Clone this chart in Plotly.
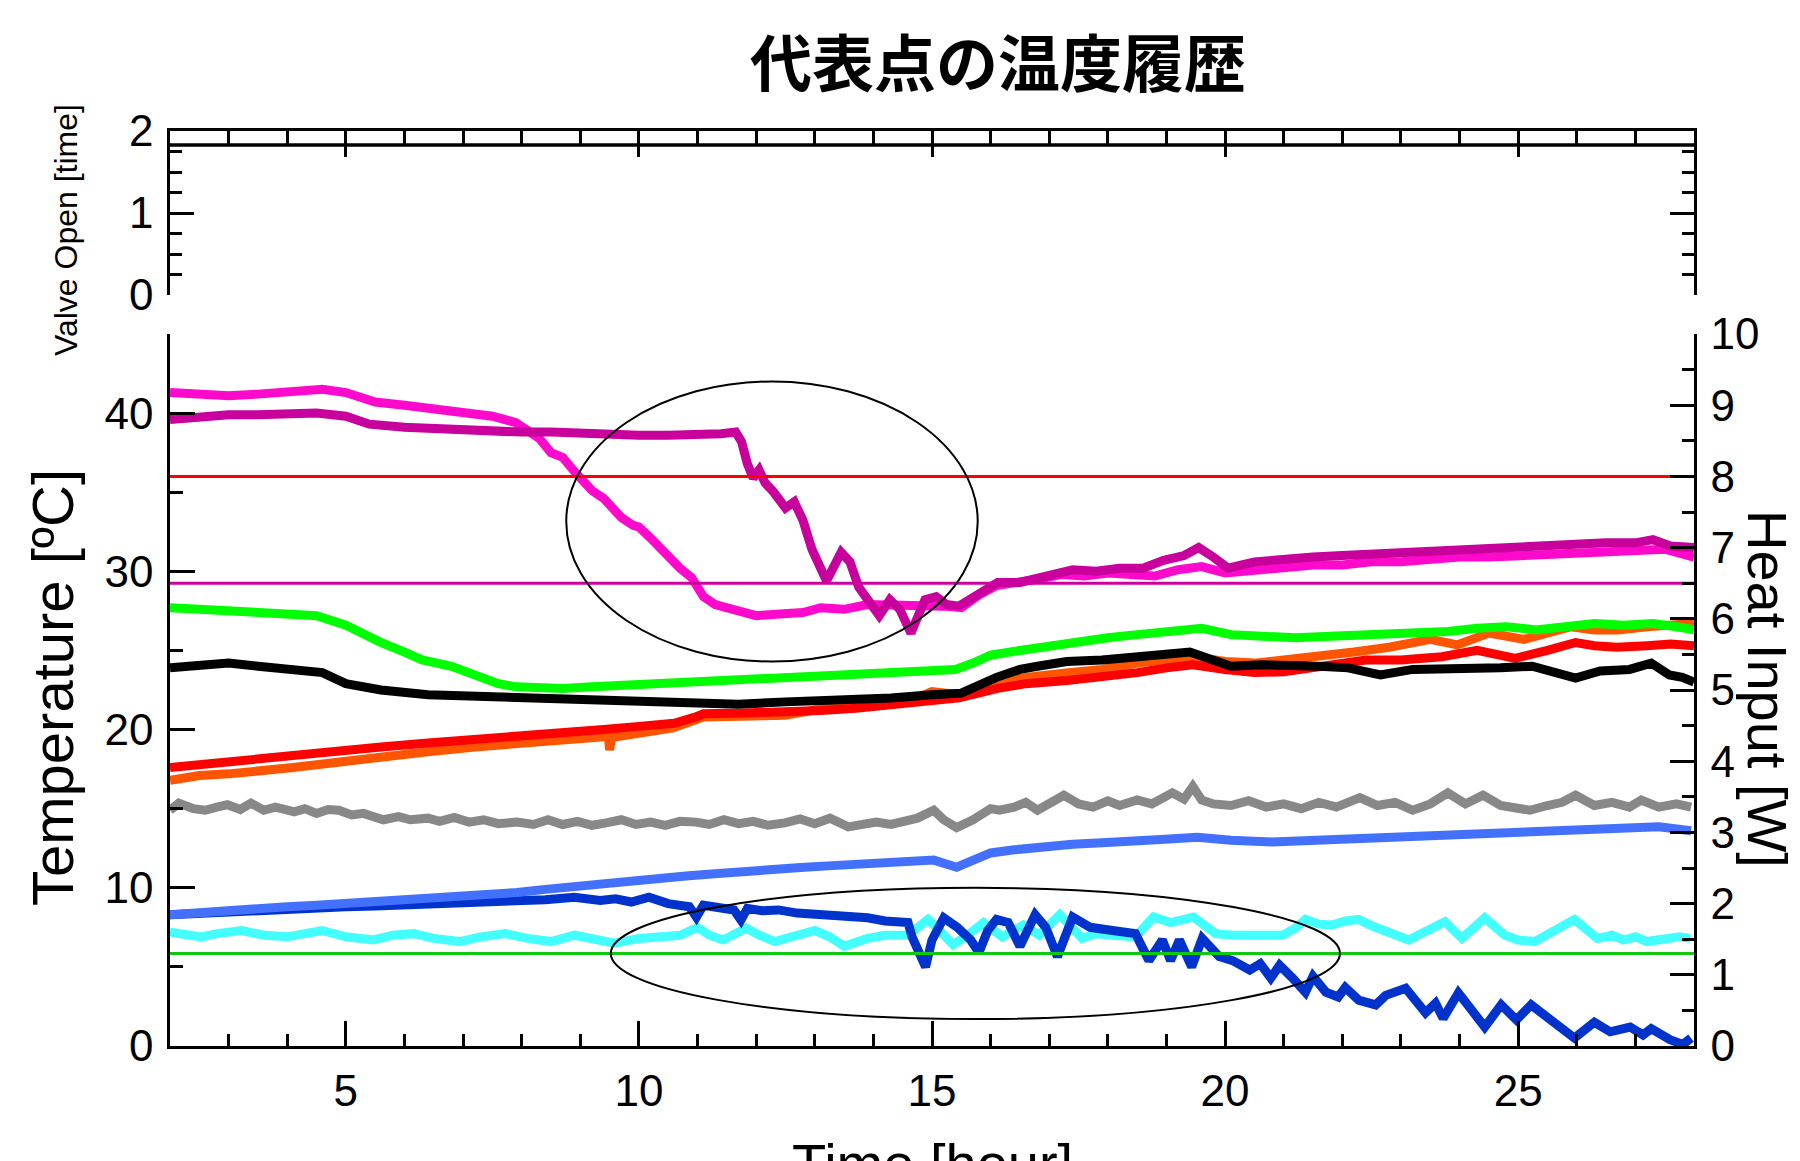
import plotly.graph_objects as go

# ---------------- data ----------------
title_text = "代表点の温度履歴"
x_title = "Time [hour]"
y_left_title = "Temperature [ºC]"
y_right_title = "Heat Input [W]"
y_valve_title = "Valve Open [time]"

x_range = [2, 28]
temp_range = [0, 45]
heat_range = [0, 10]
valve_range = [0, 2]

t_pink = [2.0, 2.5, 3.0, 3.5, 4.0, 4.6, 5.0, 5.5, 6.0, 6.5, 7.0, 7.5, 7.9, 8.3, 8.5, 8.7, 8.9, 9.1, 9.2, 9.4,
          9.6, 9.7, 9.9, 10.0, 10.2, 10.4, 10.5, 10.7, 10.9, 11.1, 11.3, 11.5, 11.7, 12.0, 12.4, 12.8, 13.1,
          13.5, 13.9, 14.4, 14.8, 15.2, 15.5, 15.8, 16.1, 16.5, 16.8, 17.2, 17.6, 18.0, 18.5, 18.8, 19.2,
          19.6, 20.0, 20.5, 21.0, 21.5, 22.0, 22.5, 23.0, 23.5, 24.0, 24.5, 25.0, 25.5, 26.0, 26.5, 27.0,
          27.5, 28.0]
v_pink = [41.3, 41.2, 41.1, 41.2, 41.3, 41.5, 41.3, 40.7, 40.5, 40.3, 40.1, 39.8, 39.4, 38.4, 37.5, 37.2,
          36.3, 35.6, 35.1, 34.6, 33.9, 33.4, 32.9, 32.8, 32.1, 31.3, 30.9, 30.2, 29.6, 28.4, 27.9, 27.7,
          27.5, 27.2, 27.3, 27.4, 27.7, 27.6, 27.9, 27.9, 27.9, 27.8, 27.7, 28.5, 29.1, 29.3, 29.5, 29.8,
          29.7, 29.9, 29.8, 29.7, 30.1, 30.3, 29.9, 30.1, 30.3, 30.4, 30.4, 30.6, 30.6, 30.8, 30.9, 30.9,
          31.0, 31.1, 31.2, 31.2, 31.3, 31.4, 30.9]

t_purple = [2.0, 2.5, 3.0, 3.5, 4.0, 4.5, 5.0, 5.4, 6.0, 6.5, 7.0, 7.5, 8.0, 8.5, 9.0, 9.5, 10.0, 10.5, 11.0,
            11.4, 11.65, 11.75, 11.85, 11.95, 12.05, 12.15, 12.3, 12.5, 12.65, 12.8, 12.95, 13.05, 13.2,
            13.45, 13.6, 13.75, 13.85, 14.0, 14.1, 14.28, 14.45, 14.64, 14.88, 15.07, 15.25, 15.46, 15.78,
            16.12, 16.5, 16.8, 17.1, 17.4, 17.8, 18.2, 18.6, 18.95, 19.3, 19.55, 19.8, 20.05, 20.5, 21.0,
            21.5, 22.0, 22.5, 23.0, 23.5, 24.0, 24.5, 25.0, 25.5, 26.0, 26.5, 27.0, 27.3, 27.6, 28.0]
v_purple = [39.6, 39.8, 39.9, 39.9, 40.0, 40.0, 39.8, 39.3, 39.1, 39.0, 38.9, 38.9, 38.8, 38.8, 38.7, 38.6,
            38.6, 38.6, 38.6, 38.7, 38.8, 38.2, 36.8, 35.9, 36.4, 35.6, 35.0, 34.0, 34.4, 33.2, 31.4, 30.5,
            29.4, 31.2, 30.6, 29.0, 28.5, 27.6, 27.2, 28.2, 27.6, 26.1, 28.2, 28.4, 27.9, 27.8, 28.6, 29.3,
            29.3, 29.6, 29.9, 30.1, 30.0, 30.2, 30.2, 30.7, 31.0, 31.5, 30.9, 30.2, 30.6, 30.8, 30.9, 31.0,
            31.1, 31.1, 31.3, 31.4, 31.4, 31.5, 31.6, 31.7, 31.8, 31.8, 32.0, 31.6, 31.5]

t_green = [2.0, 2.5, 3.0, 3.5, 4.0, 4.5, 5.0, 5.3, 5.6, 6.0, 6.3, 6.8, 7.3, 7.6, 7.9, 8.3, 8.7, 9.2, 9.8, 10.4,
           11.0, 11.5, 12.0, 12.5, 13.0, 13.5, 14.0, 14.5, 15.0, 15.4, 15.7, 16.0, 16.5, 17.0, 17.5, 18.0,
           18.5, 19.0, 19.6, 20.1, 20.6, 21.2, 21.8, 22.5, 23.2, 23.8, 24.3, 24.8, 25.3, 25.8, 26.3, 26.8,
           27.3, 27.7, 28.0]
v_green = [27.7, 27.6, 27.5, 27.4, 27.3, 27.2, 26.6, 26.0, 25.5, 24.9, 24.4, 24.0, 23.3, 22.9, 22.7, 22.6,
           22.6, 22.7, 22.8, 22.9, 23.1, 23.1, 23.2, 23.3, 23.4, 23.5, 23.6, 23.7, 23.8, 23.8, 24.2, 24.7,
           25.0, 25.3, 25.5, 25.8, 26.0, 26.2, 26.4, 26.0, 25.9, 25.8, 25.9, 26.0, 26.1, 26.2, 26.4, 26.5,
           26.3, 26.5, 26.7, 26.6, 26.7, 26.5, 26.3]

t_black = [2.0, 2.5, 3.0, 3.5, 4.1, 4.6, 5.0, 5.6, 6.4, 7.2, 7.9, 8.6, 9.4, 10.2, 11.0, 11.7, 12.5, 13.2, 13.7,
           14.3, 15.0, 15.5, 16.1, 16.5, 16.8, 17.3, 17.9, 18.4, 18.8, 19.4, 19.7, 20.1, 20.6, 21.0, 21.6,
           22.1, 22.65, 23.2, 23.7, 24.2, 24.7, 25.24, 25.6, 25.98, 26.4, 26.9, 27.27, 27.58, 27.8, 28.0]
v_black = [23.9, 24.0, 24.2, 24.0, 23.8, 23.6, 22.9, 22.5, 22.2, 22.1, 22.0, 21.9, 21.75, 21.7, 21.55, 21.6,
           21.75, 21.8, 21.9, 22.0, 22.2, 22.3, 23.3, 23.8, 24.0, 24.3, 24.4, 24.5, 24.7, 24.9, 24.5, 24.0,
           24.1, 24.1, 24.0, 23.9, 23.45, 23.8, 23.8, 23.9, 23.9, 24.0, 23.7, 23.25, 23.7, 23.8, 24.2, 23.45,
           23.3, 23.0]

t_red = [2.0, 2.5, 3.0, 3.4, 4.0, 4.9, 5.6, 6.4, 7.2, 7.9, 8.7, 9.4, 10.0, 10.6, 10.97, 11.1, 11.8, 12.5,
         13.1, 13.7, 14.3, 14.9, 15.46, 16.12, 16.6, 17.3, 17.9, 18.5, 19.0, 19.45, 20.0, 20.5, 21.0, 21.6,
         22.0, 22.4, 23.0, 23.7, 24.3, 24.95, 25.5, 25.98, 26.3, 26.68, 27.2, 27.6, 28.0]
v_red = [17.6, 17.8, 17.9, 18.1, 18.3, 18.7, 18.9, 19.15, 19.35, 19.55, 19.8, 20.0, 20.2, 20.4, 20.8, 21.0,
         21.05, 21.1, 21.2, 21.35, 21.6, 21.8, 22.0, 22.6, 22.9, 23.1, 23.3, 23.6, 23.9, 24.1, 23.8, 23.6,
         23.65, 24.0, 24.1, 24.4, 24.4, 24.6, 25.0, 24.5, 25.0, 25.5, 25.3, 25.2, 25.3, 25.4, 25.3]

t_orange = [2.0, 2.5, 3.0, 3.4, 4.1, 4.9, 5.6, 6.4, 7.2, 7.9, 8.7, 9.4, 9.48, 9.5, 9.53, 10.0, 10.58, 11.1,
            11.8, 12.49, 13.1, 13.7, 14.3, 14.8, 15.0, 15.46, 16.12, 16.6, 17.33, 17.9, 18.5, 19.0, 19.45,
            20.0, 20.5, 21.0, 21.6, 22.2, 22.8, 23.5, 23.96, 24.5, 25.1, 25.5, 25.9, 26.3, 26.7, 27.2, 27.6,
            28.0]
v_orange = [16.8, 17.1, 17.2, 17.3, 17.6, 17.95, 18.3, 18.6, 18.9, 19.15, 19.35, 19.55, 19.5, 18.7, 19.5,
            19.8, 20.1, 20.8, 20.85, 20.9, 21.3, 21.75, 21.9, 22.1, 22.4, 22.2, 23.0, 23.3, 23.6, 23.8, 24.2,
            24.4, 24.6, 24.3, 24.2, 24.4, 24.6, 24.9, 25.2, 25.7, 25.35, 26.1, 25.7, 26.1, 26.5, 26.3, 26.3,
            26.5, 26.6, 26.7]

t_gray = [2.0, 2.15, 2.4, 2.6, 2.8, 2.98, 3.2, 3.38, 3.6, 3.8, 4.12, 4.3, 4.5, 4.7, 4.88, 5.1, 5.3, 5.64, 5.9,
          6.1, 6.4, 6.6, 6.85, 7.1, 7.35, 7.6, 7.92, 8.2, 8.45, 8.7, 8.95, 9.2, 9.44, 9.7, 9.95, 10.2, 10.45,
          10.7, 10.97, 11.2, 11.45, 11.7, 11.95, 12.2, 12.49, 12.75, 13.0, 13.26, 13.57, 13.8, 14.05, 14.3,
          14.45, 14.75, 15.03, 15.2, 15.42, 15.7, 16.0, 16.15, 16.4, 16.6, 16.8, 17.0, 17.25, 17.5, 17.75,
          18.0, 18.2, 18.5, 18.75, 19.1, 19.3, 19.45, 19.6, 19.8, 20.1, 20.4, 20.7, 21.0, 21.3, 21.6, 21.9,
          22.3, 22.6, 22.9, 23.2, 23.5, 23.8, 24.1, 24.4, 24.7, 25.0, 25.2, 25.5, 25.75, 25.98, 26.3, 26.6,
          26.9, 27.1, 27.4, 27.7, 27.95]
v_gray = [14.9, 15.35, 15.0, 14.9, 15.1, 15.25, 14.95, 15.35, 14.9, 15.1, 14.8, 15.0, 14.7, 14.95, 14.9, 14.6,
          14.7, 14.3, 14.5, 14.3, 14.4, 14.2, 14.45, 14.15, 14.3, 14.05, 14.15, 14.0, 14.3, 14.0, 14.2, 13.95,
          14.1, 14.3, 14.0, 14.15, 13.95, 14.2, 14.15, 14.0, 14.3, 14.05, 14.2, 13.95, 14.1, 14.35, 14.05,
          14.4, 13.85, 14.0, 14.15, 14.0, 14.1, 14.4, 14.9, 14.3, 13.8, 14.3, 15.0, 14.9, 15.1, 15.4, 14.9,
          15.3, 15.85, 15.3, 15.1, 15.5, 15.2, 15.55, 15.3, 16.0, 15.6, 16.4, 15.55, 15.3, 15.2, 15.5, 15.1,
          15.3, 15.0, 15.4, 15.1, 15.7, 15.2, 15.4, 14.9, 15.3, 16.0, 15.3, 15.85, 15.2, 15.1, 14.9, 15.2,
          15.4, 15.85, 15.2, 15.4, 15.1, 15.55, 15.1, 15.3, 15.1]

t_lblue = [2.0, 2.5, 3.0, 3.5, 4.0, 4.5, 5.0, 5.5, 5.96, 6.5, 7.0, 7.5, 7.92, 8.4, 8.9, 9.4, 9.87, 10.3, 10.8,
           11.35, 11.8, 12.3, 12.82, 13.3, 13.8, 14.38, 14.7, 15.03, 15.42, 15.7, 16.0, 16.4, 16.9, 17.4,
           17.9, 18.37, 18.9, 19.53, 20.1, 20.8, 21.5, 22.28, 23.0, 23.75, 24.5, 25.2, 25.7, 26.2, 26.8,
           27.4, 27.95]
v_lblue = [8.3, 8.45, 8.55, 8.65, 8.8, 8.9, 9.0, 9.1, 9.2, 9.35, 9.45, 9.55, 9.7, 9.9, 10.1, 10.3, 10.5,
           10.65, 10.75, 10.9, 11.05, 11.2, 11.3, 11.4, 11.5, 11.55, 11.6, 11.75, 11.3, 11.7, 12.2, 12.4,
           12.6, 12.75, 12.85, 12.9, 13.05, 13.2, 13.0, 12.9, 13.0, 13.15, 13.25, 13.45, 13.5, 13.55, 13.7,
           13.8, 13.75, 13.85, 13.6]

t_dblue = [2.0, 2.5, 3.0, 3.5, 4.0, 4.5, 5.0, 5.5, 5.96, 6.5, 7.0, 7.5, 7.92, 8.4, 8.9, 9.34, 9.6, 9.87,
           10.17, 10.5, 10.86, 10.98, 11.1, 11.35, 11.62, 11.74, 11.85, 12.1, 12.38, 12.7, 13.14, 13.5, 13.9,
           14.2, 14.45, 14.59, 14.66, 14.89, 15.0, 15.2, 15.43, 15.66, 15.8, 15.95, 16.1, 16.3, 16.5, 16.76,
           16.94, 17.14, 17.4, 17.7, 18.08, 18.47, 18.7, 18.93, 19.07, 19.22, 19.43, 19.61, 19.9, 20.13,
           20.42, 20.6, 20.78, 20.93, 21.15, 21.37, 21.5, 21.72, 21.93, 22.05, 22.28, 22.57, 22.74, 23.08,
           23.42, 23.59, 23.72, 23.98, 24.2, 24.43, 24.71, 24.97, 25.22, 25.61, 25.96, 26.3, 26.57, 26.91,
           27.13, 27.27, 27.59, 27.81, 27.95]
v_dblue = [8.3, 8.4, 8.5, 8.55, 8.6, 8.75, 8.8, 8.85, 8.9, 9.0, 9.05, 9.1, 9.1, 9.25, 9.4, 9.2, 9.3, 9.1, 9.4,
           9.0, 8.8, 8.15, 8.9, 8.7, 8.6, 7.96, 8.7, 8.55, 8.6, 8.4, 8.3, 8.2, 8.1, 7.9, 7.8, 7.8, 6.9, 5.0,
           6.7, 8.1, 7.5, 6.7, 5.9, 7.3, 8.0, 7.8, 6.3, 8.3, 7.5, 5.65, 8.15, 7.5, 7.3, 7.1, 5.4, 6.7, 5.4,
           6.7, 5.0, 6.8, 5.65, 5.4, 4.8, 5.2, 4.3, 5.1, 4.3, 3.4, 4.4, 3.4, 3.1, 3.7, 2.9, 2.6, 3.2, 3.65,
           2.1, 2.7, 1.75, 3.35, 2.3, 1.2, 2.6, 1.65, 2.6, 1.45, 0.5, 1.5, 0.9, 1.2, 0.7, 1.1, 0.4, 0.1, 0.5]

t_cyan = [2.0, 2.25, 2.53, 2.8, 3.22, 3.6, 4.0, 4.3, 4.59, 5.0, 5.47, 5.8, 6.15, 6.5, 6.94, 7.3, 7.72, 8.1,
          8.5, 8.9, 9.2, 9.58, 10.0, 10.36, 10.7, 11.0, 11.2, 11.44, 11.83, 12.05, 12.32, 12.7, 13.0, 13.25,
          13.5, 13.9, 14.2, 14.59, 14.93, 15.1, 15.36, 15.6, 15.88, 16.2, 16.56, 16.83, 17.18, 17.56, 17.8,
          18.08, 18.47, 18.78, 19.07, 19.46, 19.84, 20.13, 20.37, 20.7, 20.98, 21.2, 21.37, 21.6, 21.82,
          22.05, 22.28, 22.5, 22.78, 23.13, 23.4, 23.75, 24.04, 24.43, 24.77, 25.0, 25.28, 25.56, 25.96,
          26.35, 26.6, 26.8, 27.0, 27.2, 27.53, 27.75, 27.93]
v_cyan = [7.2, 7.0, 6.9, 7.1, 7.3, 7.0, 6.9, 7.1, 7.3, 6.9, 6.7, 7.0, 7.1, 6.8, 6.6, 6.9, 7.1, 6.8, 6.6, 7.0,
          6.8, 6.5, 6.8, 6.9, 7.0, 7.5, 7.0, 6.7, 7.45, 7.0, 6.6, 7.0, 7.3, 6.9, 6.3, 6.8, 7.0, 7.0, 8.0, 7.4,
          6.4, 7.0, 7.8, 6.9, 7.65, 7.0, 8.3, 6.8, 7.1, 7.0, 6.9, 8.15, 7.8, 8.15, 7.1, 7.0, 7.0, 7.1, 7.0,
          7.45, 8.0, 7.7, 7.65, 7.9, 8.0, 7.6, 7.2, 6.7, 7.2, 7.85, 6.8, 8.1, 7.0, 6.7, 6.6, 7.2, 8.0, 6.8,
          7.0, 6.7, 6.9, 6.6, 6.7, 6.9, 6.8]

# heat input levels [W] (right axis)
heat_levels = [8.0, 6.5, 1.3]
heat_colors = ["#FF0000", "#CC00A0", "#10C810"]

# highlighted regions (hour, degC)
ellipse_x = [[8.76, 15.78], [9.52, 21.96]]
ellipse_y = [[24.3, 42.0], [1.7, 10.0]]
valve_band_level = 1.83

series = [
    ("gray", t_gray, v_gray, "#888888"),
    ("cyan", t_cyan, v_cyan, "#44FFFF"),
    ("dark blue", t_dblue, v_dblue, "#0033CC"),
    ("light blue", t_lblue, v_lblue, "#4470FF"),
    ("orange", t_orange, v_orange, "#FF5500"),
    ("red", t_red, v_red, "#FF0000"),
    ("black", t_black, v_black, "#000000"),
    ("green", t_green, v_green, "#00FF00"),
    ("pink", t_pink, v_pink, "#FF0ACD"),
    ("purple", t_purple, v_purple, "#C8009C"),
]

# ---------------- figure ----------------
W, H = 1800, 1161
ML, MR, MT, MB = 170, 106, 131, 115
plot_h = H - MT - MB


def py(p):  # page pixel y -> paper y
    return (H - MB - p) / plot_h


def px(p):  # page pixel x -> paper x
    return (p - ML) / (W - ML - MR)


fig = go.Figure()
for name, t, v, c in series:
    fig.add_trace(go.Scatter(x=t, y=v, mode="lines", name=name,
                             line=dict(color=c, width=9), xaxis="x", yaxis="y"))

for lv, c in zip(heat_levels, heat_colors):
    fig.add_trace(go.Scatter(x=x_range, y=[lv, lv], mode="lines", line=dict(color=c, width=3),
                             xaxis="x", yaxis="y3", showlegend=False))

tick_font = dict(family="Liberation Sans, Arial, sans-serif", size=44, color="black")
axis_common = dict(showgrid=False, zeroline=False, showline=True, linecolor="black",
                   ticks="inside", tickcolor="black", tickfont=tick_font)

fig.update_layout(
    width=W, height=H, autosize=False,
    margin=dict(l=ML, r=MR, t=MT, b=MB, pad=0),
    paper_bgcolor="white", plot_bgcolor="white",
    showlegend=False,
    xaxis=dict(**axis_common, range=x_range, anchor="y", domain=[0, 1],
               tick0=0, dtick=5, ticklen=25, tickwidth=2.5, linewidth=3,
               minor=dict(dtick=1, ticklen=12, tickwidth=2.5, ticks="inside", tickcolor="black"),
               ticklabelstandoff=4),
    xaxis2=dict(**axis_common, range=x_range, anchor="y2", side="top", matches="x",
                tick0=0, dtick=5, ticklen=26, tickwidth=2.5, linewidth=3, showticklabels=False,
                minor=dict(dtick=1, ticklen=14, tickwidth=2.5, ticks="inside", tickcolor="black")),
    yaxis=dict(**axis_common, range=temp_range, domain=[0, py(334)], anchor="x",
               tick0=0, dtick=10, ticklen=25, tickwidth=2.5, linewidth=2.5,
               minor=dict(dtick=5, ticklen=13, tickwidth=2.5, ticks="inside", tickcolor="black"),
               ticklabelstandoff=5),
    yaxis2=dict(**axis_common, range=valve_range, domain=[py(295), 1], anchor="x2",
                tick0=0, dtick=1, ticklen=24, tickwidth=2.5, linewidth=2.5, mirror="ticks",
                minor=dict(dtick=0.25, ticklen=12, tickwidth=2.5, ticks="inside", tickcolor="black"),
                ticklabelstandoff=5),
    yaxis3=dict(**axis_common, range=heat_range, overlaying="y", side="right", anchor="x",
                tick0=0, dtick=1, ticklen=24, tickwidth=2.5, linewidth=2.5,
                minor=dict(dtick=0.5, ticklen=12, tickwidth=2.5, ticks="inside", tickcolor="black"),
                ticklabelstandoff=5),
)

# valve band line and highlighted ellipses
fig.add_shape(type="line", xref="x2 domain", yref="y2", x0=0, x1=1,
              y0=valve_band_level, y1=valve_band_level, line=dict(color="black", width=3.5))
for ex, ey in zip(ellipse_x, ellipse_y):
    fig.add_shape(type="circle", xref="x", yref="y", x0=ex[0], x1=ex[1], y0=ey[0], y1=ey[1],
                  line=dict(color="black", width=2), layer="above")

label_font = dict(family="Liberation Sans, Arial, sans-serif", color="black")
fig.add_annotation(text="<b>" + title_text + "</b>", xref="paper", yref="paper", x=px(998), y=py(60),
                   xanchor="center", yanchor="middle", showarrow=False,
                   font=dict(family="Noto Sans CJK JP", size=62, color="black"))
fig.add_annotation(text=y_left_title, xref="paper", yref="paper", x=px(52), y=py(688),
                   xanchor="center", yanchor="middle", textangle=-90, showarrow=False,
                   font=dict(**label_font, size=58))
fig.add_annotation(text=y_valve_title, xref="paper", yref="paper", x=px(66), y=py(230),
                   xanchor="center", yanchor="middle", textangle=-90, showarrow=False,
                   font=dict(**label_font, size=32))
fig.add_annotation(text=y_right_title, xref="paper", yref="paper", x=px(1768), y=py(689),
                   xanchor="center", yanchor="middle", textangle=90, showarrow=False,
                   font=dict(**label_font, size=56))
fig.add_annotation(text=x_title, xref="paper", yref="paper", x=px(932), y=py(1130),
                   xanchor="center", yanchor="top", showarrow=False,
                   font=dict(**label_font, size=56))

fig.write_html("out.html", config={"displayModeBar": False},
               post_script="document.body.style.margin='0';")
